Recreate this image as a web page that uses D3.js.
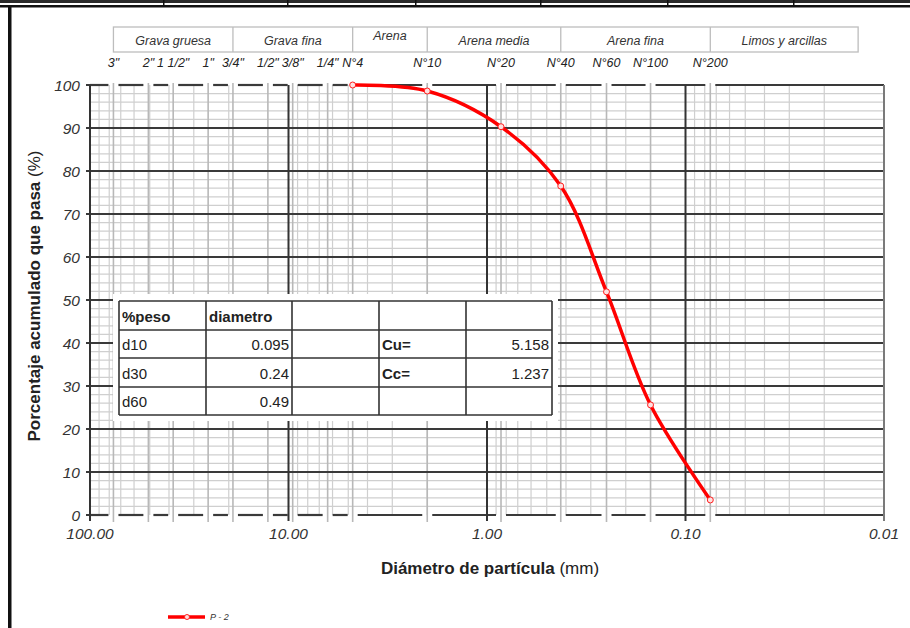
<!DOCTYPE html>
<html><head><meta charset="utf-8">
<script src="https://cdn.jsdelivr.net/npm/d3@7"></script>
<style>body{margin:0;background:#fff}svg{display:block}</style>
</head><body><div id="chart"></div>
<script>
// ---- data ----
const sampleSizes = [4.75, 2.0, 0.85, 0.425, 0.25, 0.15, 0.075];
const samplePassing = [100, 98.6, 90.3, 76.5, 51.9, 25.6, 3.5];
const sieveLabels = ['3"','2"','1 1/2"','1"','3/4"','1/2"','3/8"','1/4"','N°4','N°10','N°20','N°40','N°60','N°100','N°200'];
const sieveSizes = [76.2, 50.8, 38.1, 25.4, 19.05, 12.7, 9.525, 6.35, 4.75, 2.0, 0.85, 0.425, 0.25, 0.15, 0.075];
const zoneLabels = ["Grava gruesa","Grava fina","Arena","Arena media","Arena fina","Limos y arcillas"];
const zoneBounds = [76.2, 19.05, 4.75, 2.0, 0.425, 0.075, 0.0135];
const xTicks = [100, 10, 1, 0.1, 0.01];
const yTicks = [0,10,20,30,40,50,60,70,80,90,100];
const tableRows = [["%peso","diametro","","",""],["d10","0.095","","Cu=","5.158"],["d30","0.24","","Cc=","1.237"],["d60","0.49","","",""]];
const seriesName = "P - 2";

const W = 910, H = 628;
const svg = d3.select("#chart").append("svg").attr("width", W).attr("height", H);
const narrow = "'Liberation Sans Narrow','Liberation Sans',Arial,sans-serif";
const sans = "'Liberation Sans',Arial,sans-serif";

const x = d3.scaleLog().domain([100, 0.01]).range([90, 884]);
const y = d3.scaleLinear().domain([0, 100]).range([515, 85]);

// page frame
svg.append("rect").attr("x",0).attr("y",0).attr("width",W).attr("height",3).attr("fill","#2a2a2a");
svg.append("rect").attr("x",0).attr("y",5).attr("width",W).attr("height",2.5).attr("fill","#111");
[163,287,415,540,667,793].forEach(v=>svg.append("rect").attr("x",v).attr("y",0).attr("width",1.5).attr("height",5).attr("fill","#111"));
svg.append("rect").attr("x",8).attr("y",5).attr("width",3.5).attr("height",H).attr("fill","#111");

const g = svg.append("g");
// minor horizontal grid
for (let v = 2; v < 100; v += 2) {
  if (v % 10 === 0) continue;
  g.append("line").attr("x1",x(100)).attr("x2",x(0.01)).attr("y1",y(v)).attr("y2",y(v)).attr("stroke","#cfcfcf").attr("stroke-width",1.2);
}
// minor vertical log grid
const minorX = [];
[10,1,0.1,0.01].forEach(d => { for (let k = 2; k <= 9; k++) minorX.push(k*d); });
minorX.forEach(v => g.append("line").attr("x1",x(v)).attr("x2",x(v)).attr("y1",y(100)).attr("y2",y(0)).attr("stroke","#cfcfcf").attr("stroke-width",1.2));
// sieve lines
sieveSizes.forEach(v => g.append("line").attr("x1",x(v)).attr("x2",x(v)).attr("y1",y(100)-2).attr("y2",y(0)+7).attr("stroke","#b8b8b8").attr("stroke-width",1.6));
// major horizontal
yTicks.filter(v=>v>0 && v<100).forEach(v => g.append("line").attr("x1",x(100)-4).attr("x2",x(0.01)).attr("y1",y(v)).attr("y2",y(v)).attr("stroke","#3a3a3a").attr("stroke-width",2));
// 0 and 100 lines broken at sieves
const bx = [x(100)].concat(sieveSizes.map(s=>x(s))).concat([x(0.01)]);
[0,100].forEach(v => {
  for (let i = 0; i < bx.length-1; i++) {
    const a = bx[i] + (i===0?0:5), b = bx[i+1] - (i===bx.length-2?0:5);
    if (b > a) g.append("line").attr("x1",a).attr("x2",b).attr("y1",y(v)).attr("y2",y(v)).attr("stroke","#3a3a3a").attr("stroke-width",2.2);
  }
  g.append("line").attr("x1",x(100)-4).attr("x2",x(100)).attr("y1",y(v)).attr("y2",y(v)).attr("stroke","#3a3a3a").attr("stroke-width",2);
});
// decade verticals
xTicks.forEach((v,i) => g.append("line").attr("x1",x(v)).attr("x2",x(v)).attr("y1",y(100)).attr("y2",y(0)+6)
  .attr("stroke", i===4 ? "#7a7a7a" : "#333").attr("stroke-width", 2));

// table
const colX = [119, 206, 292, 379, 466, 552];
const rowY = [301, 330, 358, 387, 415];
g.append("rect").attr("x",colX[0]-6).attr("y",rowY[0]-7).attr("width",colX[5]-colX[0]+12).attr("height",rowY[4]-rowY[0]+13).attr("fill","#fff");
const tb = g.append("g");
rowY.forEach(v => tb.append("line").attr("x1",colX[0]).attr("x2",colX[5]).attr("y1",v).attr("y2",v).attr("stroke","#333").attr("stroke-width",1.6));
colX.forEach(v => tb.append("line").attr("x1",v).attr("x2",v).attr("y1",rowY[0]).attr("y2",rowY[4]).attr("stroke","#333").attr("stroke-width",1.6));
tableRows.forEach((row, r) => row.forEach((txt, c) => {
  if (!txt) return;
  const right = r > 0 && (c === 1 || c === 4);
  const bold = (r === 0) || c === 3;
  tb.append("text").attr("x", right ? colX[c+1]-3 : colX[c]+3).attr("y", (rowY[r]+rowY[r+1])/2 + 6)
    .attr("text-anchor", right ? "end" : "start").attr("font-family", sans).attr("font-size", 15)
    .attr("font-weight", bold ? "bold" : "normal").attr("fill", "#222").text(txt);
}));

// curve
const pts = sampleSizes.map((s,i)=>[x(s), y(samplePassing[i])]);
g.append("path").attr("d", d3.line().curve(d3.curveCatmullRom.alpha(0.5))(pts)).attr("fill","none").attr("stroke","#ff0000").attr("stroke-width",3.5);
g.selectAll("circle.m").data(pts).enter().append("circle").attr("cx",d=>d[0]).attr("cy",d=>d[1]).attr("r",3)
  .attr("fill","#ffe0e0").attr("stroke","#ff2020").attr("stroke-width",1);

// axis labels
yTicks.forEach(v => svg.append("text").attr("x",80).attr("y",y(v)+5.5).attr("text-anchor","end").attr("font-family",sans)
  .attr("font-size",15.5).attr("font-style","italic").attr("fill","#333").text(v));
xTicks.forEach(v => svg.append("text").attr("x",x(v)).attr("y",539).attr("text-anchor","middle").attr("font-family",sans)
  .attr("font-size",15.5).attr("font-style","italic").attr("fill","#333").text(v.toFixed(2)));

// titles
const xt = svg.append("text").attr("x",490).attr("y",574).attr("text-anchor","middle").attr("font-family",sans).attr("font-size",17).attr("fill","#222");
xt.append("tspan").attr("font-weight","bold").text("Diámetro de partícula ");
xt.append("tspan").text("(mm)");
const yt = svg.append("text").attr("transform","translate(40,296) rotate(-90)").attr("text-anchor","middle").attr("font-family",sans).attr("font-size",17).attr("fill","#222");
yt.append("tspan").attr("font-weight","bold").text("Porcentaje acumulado que pasa ");
yt.append("tspan").text("(%)");

// header zones
const zb = zoneBounds.map(v=>x(v));
svg.append("rect").attr("x",zb[0]).attr("y",27).attr("width",zb[6]-zb[0]).attr("height",25).attr("fill","none").attr("stroke","#bdbdbd").attr("stroke-width",1.3);
zb.slice(1,6).forEach(v => svg.append("line").attr("x1",v).attr("x2",v).attr("y1",27).attr("y2",52).attr("stroke","#bdbdbd").attr("stroke-width",1.3));
zoneLabels.forEach((t,i) => svg.append("text").attr("x",(zb[i]+zb[i+1])/2).attr("y", t==="Arena" ? 40 : 45).attr("text-anchor","middle")
  .attr("font-family",narrow).attr("font-size",12.5).attr("font-style","italic").attr("fill","#333").text(t));
sieveLabels.forEach((t,i) => svg.append("text").attr("x",x(sieveSizes[i])).attr("y",67).attr("text-anchor","middle")
  .attr("font-family",narrow).attr("font-size",12.5).attr("font-style","italic").attr("fill","#222").text(t));

// legend
svg.append("line").attr("x1",168).attr("x2",205).attr("y1",617).attr("y2",617).attr("stroke","#ff0000").attr("stroke-width",3.5);
svg.append("circle").attr("cx",187).attr("cy",617).attr("r",2.5).attr("fill","#ffe0e0").attr("stroke","#ff2020").attr("stroke-width",1);
svg.append("text").attr("x",210).attr("y",620).attr("font-family",narrow).attr("font-size",9).attr("font-style","italic").attr("fill","#333").text(seriesName);
</script></body></html>
